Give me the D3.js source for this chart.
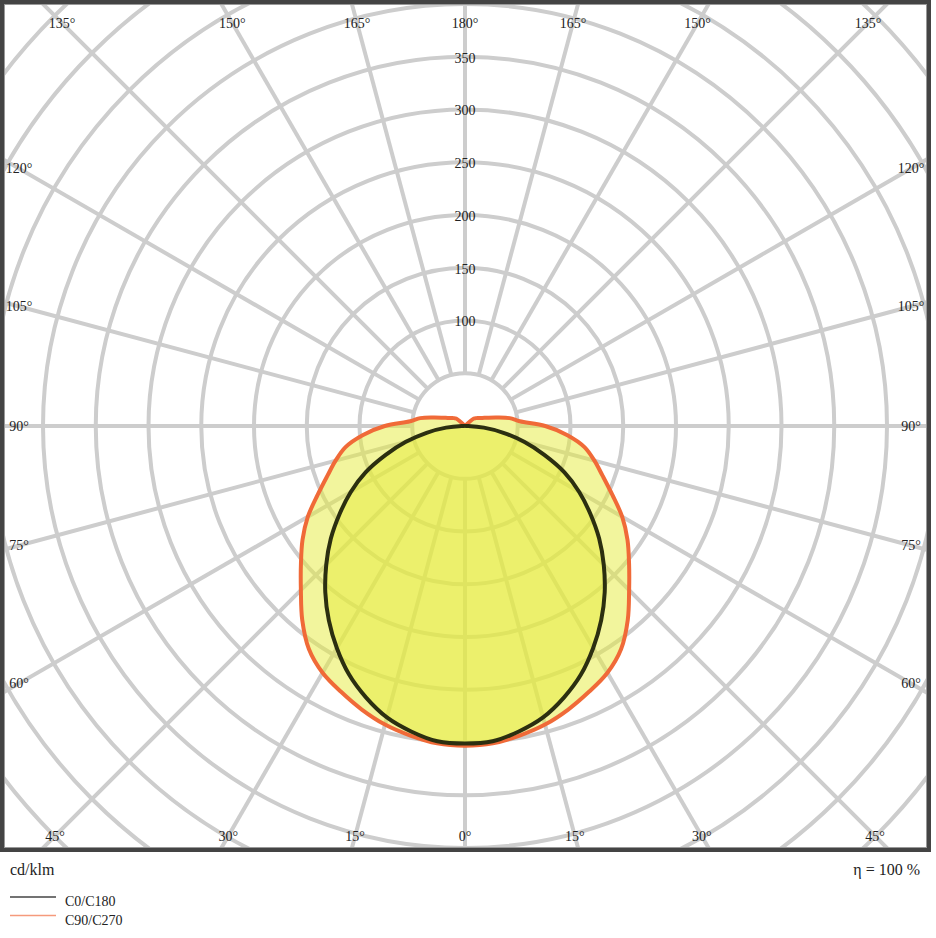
<!DOCTYPE html>
<html>
<head>
<meta charset="utf-8">
<script src="https://cdn.jsdelivr.net/npm/d3@7"></script>
<style>
  body { margin: 0; background: #fff; }
  svg text { font-family: "Liberation Serif", "Times New Roman", "DejaVu Serif", serif; fill: #222; }
</style>
</head>
<body>
<div id="chart-area"></div>
<script>
// gamma angles (deg, 0 = straight down) and intensities in cd/klm
const angles = [0, 5, 10, 15, 20, 25, 30, 35, 40, 45, 50, 55, 60, 65, 70, 75, 80, 85, 90,
  95, 100, 105, 110, 115, 120, 125, 130, 135, 140, 145, 150, 155, 160, 165, 170, 175, 180]
const c0c180 = [301, 300, 294, 286, 274, 260, 243, 225, 206, 186, 166, 145, 125, 104, 80, 58, 37, 18, 3,
  0, 0, 0, 0, 0, 0, 0, 0, 0, 0, 0, 0, 0, 0, 0, 0, 0, 0]
const c90c270 = [303, 302, 298, 293, 286, 278, 270, 258, 240, 220, 203, 188, 172, 154, 139, 127, 115, 97, 76,
  52, 43, 31, 23, 18, 15, 13, 11, 0, 0, 0, 0, 0, 0, 0, 0, 0, 0]

const ringValues = [50, 100, 150, 200, 250, 300, 350, 400, 450, 500, 550, 600, 650]
const ringLabels = [100, 150, 200, 250, 300, 350]
const spokeAngles = d3.range(0, 360, 15)

const WIDTH = 936
const HEIGHT = 938
const FRAME = { LEFT: 2, TOP: 2, RIGHT: 929, BOTTOM: 850 }
const CX = 465
const CY = 426
// label box where angle labels sit
const LBOX = { LEFT: 19, RIGHT: 911, TOP: 23, BOTTOM: 836 }
const SERIF = "'Liberation Serif', 'Times New Roman', 'DejaVu Serif', serif"

const svg = d3.select("#chart-area").append("svg")
  .attr("width", WIDTH)
  .attr("height", HEIGHT)
  .attr("font-family", SERIF)

svg.append("clipPath").attr("id", "frame-clip")
  .append("rect")
  .attr("x", FRAME.LEFT)
  .attr("y", FRAME.TOP)
  .attr("width", FRAME.RIGHT - FRAME.LEFT)
  .attr("height", FRAME.BOTTOM - FRAME.TOP)

const plot = svg.append("g").attr("clip-path", "url(#frame-clip)")
const g = plot.append("g").attr("transform", `translate(${CX}, ${CY})`)

// radial scale
const r = d3.scaleLinear().domain([0, 350]).range([0, 350 * 1.055])

const GRID = "#cdcdcd"

// rings
g.selectAll(".ring").data(ringValues).enter().append("circle")
  .attr("class", "ring")
  .attr("r", d => r(d))
  .attr("fill", "none")
  .attr("stroke", GRID)
  .attr("stroke-width", 4)

// spokes (angle measured clockwise from straight down)
const rad = d => d * Math.PI / 180
g.selectAll(".spoke").data(spokeAngles).enter().append("line")
  .attr("class", "spoke")
  .attr("x1", d => -Math.sin(rad(d)) * r(50))
  .attr("y1", d => Math.cos(rad(d)) * r(50))
  .attr("x2", d => -Math.sin(rad(d)) * r(800))
  .attr("y2", d => Math.cos(rad(d)) * r(800))
  .attr("stroke", GRID)
  .attr("stroke-width", 4)

// curve points: left half (gamma 180 -> 0) then right half (0 -> 180)
function curvePoints(values) {
  const left = angles.map((a, i) => ({ a: Math.PI + rad(a), v: values[i] })).reverse()
  const right = angles.slice(1).map((a, i) => ({ a: Math.PI - rad(a), v: values[i + 1] }))
  return left.concat(right)
}

const radial = d3.lineRadial()
  .angle(d => d.a)
  .radius(d => r(d.v))
  .curve(d3.curveCatmullRomClosed.alpha(0.5))

const FILL = "#e6ec3c"

g.append("path")
  .attr("d", radial(curvePoints(c90c270)))
  .attr("fill", FILL)
  .attr("fill-opacity", 0.5)
  .attr("stroke", "none")

g.append("path")
  .attr("d", radial(curvePoints(c0c180)))
  .attr("fill", FILL)
  .attr("fill-opacity", 0.5)
  .attr("stroke", "none")

g.append("path")
  .attr("d", radial(curvePoints(c90c270)))
  .attr("fill", "none")
  .attr("stroke", "#f06a38")
  .attr("stroke-width", 4)
  .attr("stroke-linejoin", "round")

g.append("path")
  .attr("d", radial(curvePoints(c0c180)))
  .attr("fill", "none")
  .attr("stroke", "#2c2f10")
  .attr("stroke-width", 4)
  .attr("stroke-linejoin", "round")

// ring labels
g.selectAll(".ring-label").data(ringLabels).enter().append("text")
  .attr("class", "ring-label")
  .attr("x", 0)
  .attr("y", d => -r(d) + 1)
  .attr("dy", "0.35em")
  .attr("text-anchor", "middle")
  .attr("font-size", "14px")
  .text(d => d)

// angle labels where each spoke meets the label box
function labelPos(d) {
  const dx = -Math.sin(rad(d))
  const dy = Math.cos(rad(d))
  let t = Infinity
  if (dx > 1e-9) t = Math.min(t, (LBOX.RIGHT - CX) / dx)
  if (dx < -1e-9) t = Math.min(t, (LBOX.LEFT - CX) / dx)
  if (dy > 1e-9) t = Math.min(t, (LBOX.BOTTOM - CY) / dy)
  if (dy < -1e-9) t = Math.min(t, (LBOX.TOP - CY) / dy)
  return [CX + dx * t, CY + dy * t]
}
const angleLabel = d => (d <= 180 ? d : 360 - d) + "°"

svg.selectAll(".angle-label").data(spokeAngles).enter().append("text")
  .attr("class", "angle-label")
  .attr("x", d => labelPos(d)[0])
  .attr("y", d => labelPos(d)[1])
  .attr("dy", "0.35em")
  .attr("text-anchor", "middle")
  .attr("font-size", "14px")
  .text(angleLabel)

// frame
svg.append("rect")
  .attr("x", FRAME.LEFT)
  .attr("y", FRAME.TOP)
  .attr("width", FRAME.RIGHT - FRAME.LEFT)
  .attr("height", FRAME.BOTTOM - FRAME.TOP)
  .attr("fill", "none")
  .attr("stroke", "#444")
  .attr("stroke-width", 4)
svg.append("rect")
  .attr("x", FRAME.LEFT + 2.5)
  .attr("y", FRAME.TOP + 2.5)
  .attr("width", FRAME.RIGHT - FRAME.LEFT - 5)
  .attr("height", FRAME.BOTTOM - FRAME.TOP - 5)
  .attr("fill", "none")
  .attr("stroke", "#999")
  .attr("stroke-width", 1)

// units and efficiency
svg.append("text")
  .attr("x", 10)
  .attr("y", 875)
  .attr("font-size", "16px")
  .text("cd/klm")

svg.append("text")
  .attr("x", 920)
  .attr("y", 875)
  .attr("text-anchor", "end")
  .attr("font-size", "16px")
  .text("η = 100 %")

// legend
const legendItems = [
  { name: "C0/C180", color: "#444" },
  { name: "C90/C270", color: "#f59a7c" }
]
const legend = svg.selectAll(".legend").data(legendItems).enter().append("g")
  .attr("class", "legend")
  .attr("transform", (d, i) => `translate(10, ${897 + i * 18.5})`)

legend.append("line")
  .attr("x1", 0)
  .attr("x2", 46)
  .attr("stroke", d => d.color)
  .attr("stroke-width", 1.5)

legend.append("text")
  .attr("x", 55)
  .attr("y", 9)
  .attr("font-size", "14px")
  .text(d => d.name)
</script>
</body>
</html>
